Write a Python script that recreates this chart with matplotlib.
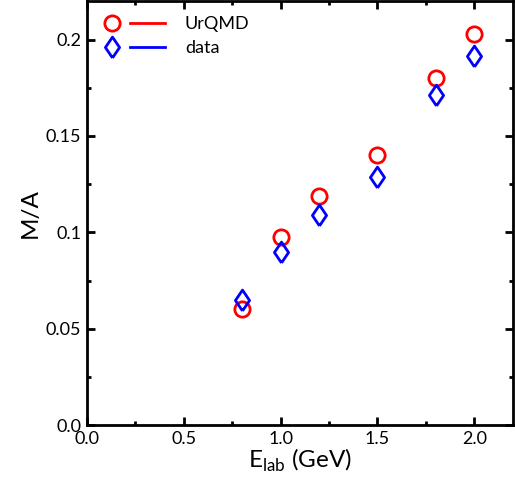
import matplotlib
matplotlib.use('Agg')
import matplotlib.pyplot as plt
from matplotlib.lines import Line2D
from matplotlib.legend_handler import HandlerTuple
from matplotlib.ticker import MultipleLocator

# values
e_lab = [0.8, 1.0, 1.2, 1.5, 1.8, 2.0]
urqmd = [0.060, 0.0974, 0.119, 0.140, 0.180, 0.203]
data = [0.0648, 0.0896, 0.109, 0.1285, 0.171, 0.1917]

plt.rcParams['font.family'] = ['Lato', 'DejaVu Sans']

# slightly thin diamond
diamond = [(0, -1), (0.68, 0), (0, 1), (-0.68, 0), (0, -1)]

fig = plt.figure(figsize=(5.15, 4.87), dpi=100)
ax = fig.add_axes([0.169, 0.127, 0.827, 0.871])

ax.plot(e_lab, urqmd, 'o', ms=11, mfc='none', mec='red', mew=2)
ax.plot(e_lab, data, ls='none', marker=diamond, ms=15, mfc='none', mec='blue', mew=2)

ax.set_xlim(0, 2.2)
ax.set_ylim(0, 0.22)
ax.xaxis.set_minor_locator(MultipleLocator(0.25))
ax.yaxis.set_minor_locator(MultipleLocator(0.025))
ax.set_xticks([0, 0.5, 1.0, 1.5, 2.0], ['0.0', '0.5', '1.0', '1.5', '2.0'])
ax.set_yticks([0, 0.05, 0.1, 0.15, 0.2], ['0.0', '0.05', '0.1', '0.15', '0.2'])
ax.tick_params(which='both', direction='in', top=True, right=True, labelsize=13, width=2, pad=4)
ax.tick_params(which='major', length=6)
ax.tick_params(which='minor', length=3)
for s in ax.spines.values():
    s.set_linewidth(2)

ax.set_xlabel('E$_\\mathregular{lab}$ (GeV)', fontsize=17.5, labelpad=0)
ax.set_ylabel('M/A', fontsize=17.5, labelpad=4)

h1 = (Line2D([], [], ls='none', marker='o', ms=11, mfc='none', mec='red', mew=2),
      Line2D([], [], color='red', lw=2))
h2 = (Line2D([], [], ls='none', marker=diamond, ms=15, mfc='none', mec='blue', mew=2),
      Line2D([], [], color='blue', lw=2))
ax.legend([h1, h2], ['UrQMD', 'data'], handler_map={tuple: HandlerTuple(ndivide=None, pad=0.0)},
          loc='upper left', bbox_to_anchor=(0.018, 0.965), frameon=False, fontsize=13,
          handlelength=3.9, labelspacing=0.45, borderaxespad=0, borderpad=0, handletextpad=1.1)

fig.savefig('out.png', dpi=100)
